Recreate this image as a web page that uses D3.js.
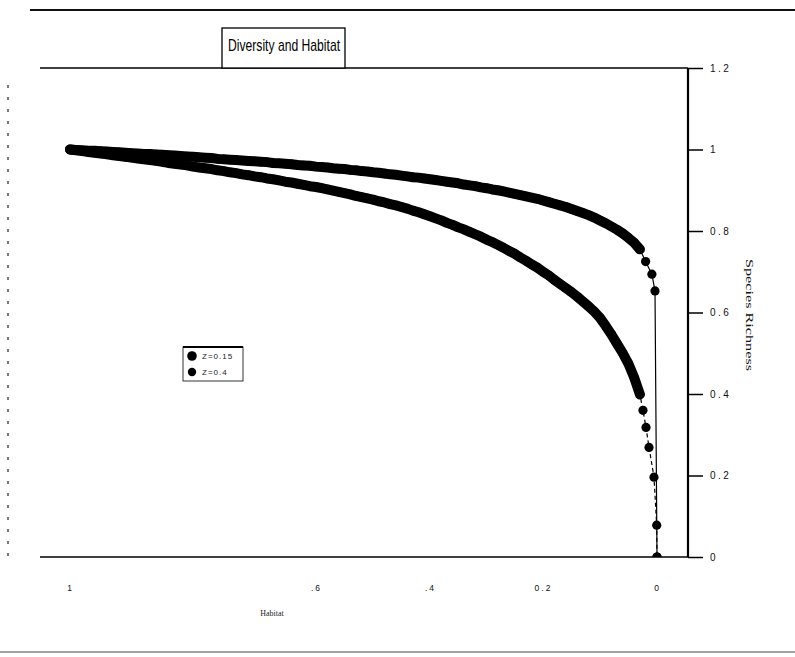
<!DOCTYPE html>
<html>
<head>
<meta charset="utf-8">
<script src="https://cdn.jsdelivr.net/npm/d3@7"></script>
<style>
  html, body { margin: 0; padding: 0; background: #fff; }
  svg { display: block; }
</style>
</head>
<body>
<svg id="chart" width="795" height="657"></svg>
<script>
// Fraction of habitat remaining (shared grid for the dense part of both curves)
const habitat = [
  1.00, 0.99, 0.98, 0.97, 0.96, 0.95, 0.94, 0.93, 0.92, 0.91,
  0.90, 0.89, 0.88, 0.87, 0.86, 0.85, 0.84, 0.83, 0.82, 0.81,
  0.80, 0.79, 0.78, 0.77, 0.76, 0.75, 0.74, 0.73, 0.72, 0.71,
  0.70, 0.69, 0.68, 0.67, 0.66, 0.65, 0.64, 0.63, 0.62, 0.61,
  0.60, 0.59, 0.58, 0.57, 0.56, 0.55, 0.54, 0.53, 0.52, 0.51,
  0.50, 0.49, 0.48, 0.47, 0.46, 0.45, 0.44, 0.43, 0.42, 0.41,
  0.40, 0.39, 0.38, 0.37, 0.36, 0.35, 0.34, 0.33, 0.32, 0.31,
  0.30, 0.29, 0.28, 0.27, 0.26, 0.25, 0.24, 0.23, 0.22, 0.21,
  0.20, 0.19, 0.18, 0.17, 0.16, 0.15, 0.14, 0.13, 0.12, 0.11,
  0.10, 0.09, 0.08, 0.07, 0.06, 0.05, 0.04, 0.03
];

// Species richness, Z = 0.15 series
const richnessZ015 = [
  1.000, 0.999, 0.998, 0.997, 0.997, 0.996, 0.995, 0.994, 0.993, 0.992,
  0.991, 0.990, 0.989, 0.989, 0.988, 0.987, 0.986, 0.985, 0.984, 0.983,
  0.982, 0.981, 0.980, 0.979, 0.977, 0.976, 0.975, 0.974, 0.973, 0.972,
  0.971, 0.970, 0.969, 0.967, 0.966, 0.965, 0.964, 0.962, 0.961, 0.960,
  0.958, 0.957, 0.956, 0.954, 0.953, 0.952, 0.950, 0.949, 0.947, 0.946,
  0.944, 0.943, 0.941, 0.939, 0.938, 0.936, 0.934, 0.932, 0.931, 0.929,
  0.927, 0.925, 0.923, 0.921, 0.919, 0.917, 0.914, 0.912, 0.910, 0.907,
  0.905, 0.902, 0.900, 0.897, 0.894, 0.891, 0.888, 0.885, 0.882, 0.879,
  0.875, 0.871, 0.867, 0.863, 0.859, 0.854, 0.849, 0.844, 0.839, 0.833,
  0.826, 0.819, 0.811, 0.803, 0.794, 0.783, 0.771, 0.755
];
const tailHabitatZ015 = [0.02, 0.009, 0.0035, 0];
const tailRichnessZ015 = [0.725, 0.694, 0.653, 0];

// Species richness, Z = 0.4 series
const richnessZ04 = [
  1.000, 0.998, 0.996, 0.994, 0.992, 0.990, 0.988, 0.986, 0.984, 0.982,
  0.980, 0.978, 0.976, 0.974, 0.972, 0.970, 0.967, 0.965, 0.963, 0.961,
  0.958, 0.956, 0.954, 0.952, 0.949, 0.947, 0.944, 0.942, 0.939, 0.937,
  0.934, 0.932, 0.929, 0.927, 0.924, 0.921, 0.919, 0.916, 0.913, 0.910,
  0.908, 0.905, 0.902, 0.899, 0.896, 0.893, 0.890, 0.886, 0.883, 0.880,
  0.877, 0.873, 0.870, 0.866, 0.863, 0.859, 0.855, 0.850, 0.846, 0.841,
  0.836, 0.831, 0.826, 0.820, 0.815, 0.809, 0.804, 0.798, 0.792, 0.786,
  0.779, 0.773, 0.766, 0.759, 0.751, 0.744, 0.735, 0.727, 0.718, 0.710,
  0.700, 0.691, 0.680, 0.670, 0.660, 0.650, 0.639, 0.627, 0.615, 0.602,
  0.587, 0.567, 0.546, 0.523, 0.500, 0.474, 0.440, 0.399
];
const tailHabitatZ04 = [0.0246, 0.0193, 0.014, 0.0053, 0.0005, 0];
const tailRichnessZ04 = [0.360, 0.318, 0.269, 0.196, 0.078, 0];

// Axis ticks
const xTickValues = [1, 0.6, 0.4, 0.2, 0];
const xTickLabels = ["1", ".6", ".4", "0.2", "0"];
const yTickValues = [0, 0.2, 0.4, 0.6, 0.8, 1, 1.2];
const yTickLabels = ["0", "0.2", "0.4", "0.6", "0.8", "1", "1.2"];

const seriesNames = ["Z=0.15", "Z=0.4"];

const svg = d3.select("#chart");

const plot = { left: 40, right: 688, top: 68, bottom: 557 };

// Habitat axis runs from 1 on the left down to 0 on the right
const x = d3.scaleLinear()
  .domain(xTickValues)
  .range([70, 316, 430, 543, 657]);

const y = d3.scaleLinear()
  .domain([0, 1.2])
  .range([plot.bottom, plot.top]);

// Page rules
svg.append("line")
  .attr("x1", 30).attr("x2", 795).attr("y1", 10).attr("y2", 10)
  .attr("stroke", "#111").attr("stroke-width", 2);
svg.append("line")
  .attr("x1", 0).attr("x2", 795).attr("y1", 652).attr("y2", 652)
  .attr("stroke", "#444").attr("stroke-width", 1);
svg.append("line")
  .attr("x1", 8).attr("x2", 8).attr("y1", 85).attr("y2", 565)
  .attr("stroke", "#222").attr("stroke-width", 1.2)
  .attr("stroke-dasharray", "3,9");

// Clip for the data marks
svg.append("defs").append("clipPath").attr("id", "plot-clip")
  .append("rect")
  .attr("x", plot.left).attr("y", plot.top)
  .attr("width", plot.right - plot.left)
  .attr("height", plot.bottom - plot.top);

// Frame: top rule and bottom (habitat) axis line
svg.append("line")
  .attr("x1", plot.left).attr("x2", plot.right)
  .attr("y1", plot.top).attr("y2", plot.top)
  .attr("stroke", "#000").attr("stroke-width", 1.5);

const xAxis = d3.axisBottom(x)
  .tickValues(xTickValues)
  .tickFormat((d, i) => xTickLabels[i])
  .tickSize(0)
  .tickPadding(28);
const gx = svg.append("g")
  .attr("transform", `translate(0,${plot.bottom})`)
  .call(xAxis);
gx.select(".domain").remove();
gx.append("line")
  .attr("x1", plot.left).attr("x2", plot.right)
  .attr("y1", 0).attr("y2", 0)
  .attr("stroke", "#000").attr("stroke-width", 1.5);
gx.selectAll(".tick text")
  .attr("font-family", "Liberation Sans, Arial, sans-serif")
  .attr("font-size", 8.5)
  .attr("letter-spacing", 2)
  .attr("fill", "#111");

// Right-hand richness axis
const yAxis = d3.axisRight(y)
  .tickValues(yTickValues)
  .tickFormat((d, i) => yTickLabels[i])
  .tickSize(15)
  .tickPadding(7);
const gy = svg.append("g")
  .attr("transform", `translate(${plot.right},0)`)
  .call(yAxis);
gy.select(".domain")
  .attr("stroke", "#000").attr("stroke-width", 2.2)
  .attr("d", `M0,${plot.top}V${plot.bottom}`);
gy.selectAll(".tick line").attr("stroke", "#000").attr("stroke-width", 1.5);
gy.selectAll(".tick text")
  .attr("font-family", "Liberation Sans, Arial, sans-serif")
  .attr("font-size", 10)
  .attr("letter-spacing", 2.5)
  .attr("fill", "#111");

// Axis titles
svg.append("text")
  .attr("x", 272).attr("y", 616)
  .attr("text-anchor", "middle")
  .attr("font-family", "Liberation Serif, serif")
  .attr("font-size", 8)
  .attr("fill", "#222")
  .text("Habitat");

svg.append("text")
  .attr("transform", "translate(746,315) rotate(90)")
  .attr("text-anchor", "middle")
  .attr("font-family", "Liberation Serif, serif")
  .attr("font-size", 11)
  .attr("textLength", 112)
  .attr("lengthAdjust", "spacingAndGlyphs")
  .attr("fill", "#111")
  .text("Species Richness");

// Title in a box
const titleG = svg.append("g");
titleG.append("rect")
  .attr("x", 222).attr("y", 28)
  .attr("width", 123).attr("height", plot.top - 28)
  .attr("fill", "#fff").attr("stroke", "#000").attr("stroke-width", 1.3);
titleG.append("text")
  .attr("x", 228).attr("y", 51)
  .attr("font-family", "Liberation Sans, Arial, sans-serif")
  .attr("font-size", 17)
  .attr("textLength", 112)
  .attr("lengthAdjust", "spacingAndGlyphs")
  .attr("fill", "#000")
  .text("Diversity and Habitat");

// Build point lists for each series
const gridData = [
  habitat.map((h, i) => ({ h, s: richnessZ015[i] })),
  habitat.map((h, i) => ({ h, s: richnessZ04[i] }))
];
const seriesData = [
  gridData[0].concat(tailHabitatZ015.map((h, i) => ({ h, s: tailRichnessZ015[i] }))),
  gridData[1].concat(tailHabitatZ04.map((h, i) => ({ h, s: tailRichnessZ04[i] })))
];
const dashes = [null, "4,3"];
const markerR = 5;

const line = d3.line().x(d => x(d.h)).y(d => y(d.s));

const marks = svg.append("g").attr("clip-path", "url(#plot-clip)");
seriesData.forEach((pts, k) => {
  // densely packed markers merge into a solid band along the grid part
  marks.append("path")
    .datum(gridData[k])
    .attr("d", line)
    .attr("fill", "none")
    .attr("stroke", "#000")
    .attr("stroke-width", markerR * 2)
    .attr("stroke-linejoin", "round")
    .attr("stroke-linecap", "round");
  marks.append("path")
    .datum(pts)
    .attr("d", line)
    .attr("fill", "none")
    .attr("stroke", "#000")
    .attr("stroke-width", 1.2)
    .attr("stroke-dasharray", dashes[k]);
  marks.append("g")
    .selectAll("circle")
    .data(pts)
    .join("circle")
    .attr("cx", d => x(d.h))
    .attr("cy", d => y(d.s))
    .attr("r", markerR * 0.92)
    .attr("fill", "#000");
});

// Legend
const legend = svg.append("g").attr("transform", "translate(183,347)");
legend.append("rect")
  .attr("width", 60).attr("height", 34)
  .attr("fill", "#fff").attr("stroke", "#000").attr("stroke-width", 0.8);
legend.append("line")
  .attr("x1", 0).attr("x2", 60).attr("y1", 0).attr("y2", 0)
  .attr("stroke", "#000").attr("stroke-width", 1.8);
seriesNames.forEach((name, i) => {
  const row = legend.append("g").attr("transform", `translate(0,${9 + i * 16})`);
  row.append("circle").attr("cx", 9).attr("cy", 0).attr("r", i === 0 ? 4.8 : 4.2).attr("fill", "#000");
  row.append("text")
    .attr("x", 19).attr("y", 3)
    .attr("font-family", "Liberation Sans, Arial, sans-serif")
    .attr("font-size", 8)
    .attr("letter-spacing", 1)
    .attr("fill", "#222")
    .text(name);
});
</script>
</body>
</html>
